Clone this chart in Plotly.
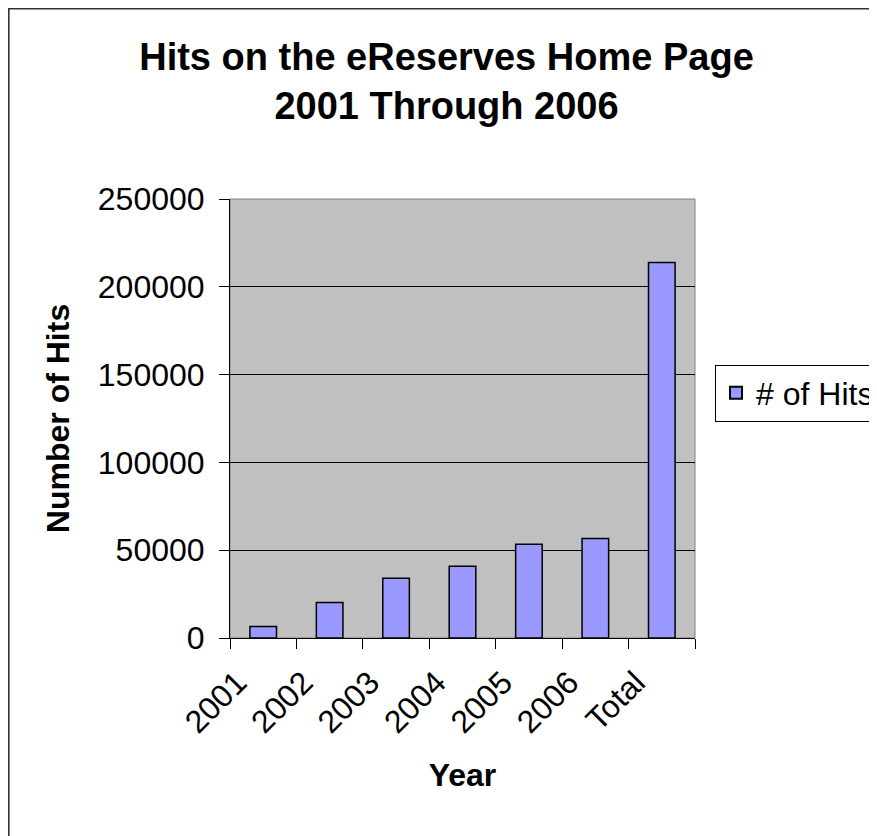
import plotly.graph_objects as go

categories = ["2001", "2002", "2003", "2004", "2005", "2006", "Total"]
hits = [6500, 20200, 34000, 40800, 53400, 56600, 213800]
series_name = "# of Hits"
title_text = "<b>Hits on the eReserves Home Page<br>2001 Through 2006</b>"
x_title = "<b>Year</b>"
y_title = "<b>Number of Hits</b>"

FONT = "Liberation Sans, Arial, sans-serif"
W, H = 877, 836
# page is offset by the 8px body margin; plot area in figure pixels
L, T = 222, 191
pw, ph = 465, 439
R = W - L - pw
B = H - T - ph

fig = go.Figure()
fig.add_trace(go.Bar(
    x=categories, y=hits, name=series_name,
    marker=dict(color="#9999FF", line=dict(color="black", width=1.5)),
    showlegend=True,
))

fig.update_layout(
    width=W, height=H,
    margin=dict(l=L, r=R, t=T, b=B, autoexpand=False),
    paper_bgcolor="white",
    plot_bgcolor="#C0C0C0",
    font=dict(family=FONT, size=32, color="black"),
    bargap=0.6,
    title=dict(text=title_text, x=0.5, xanchor="center", y=1 - 62 / H, yanchor="top",
               font=dict(family=FONT, size=38, color="black")),
    legend=dict(x=(707 - L) / pw, xanchor="left", y=(T + ph - 385) / ph, yanchor="middle",
                bordercolor="black", borderwidth=1, bgcolor="white",
                font=dict(family=FONT, size=32), itemsizing="constant"),
    xaxis=dict(
        type="category", tickson="boundaries", ticks="outside", ticklen=10,
        tickcolor="black", tickwidth=1, showline=True, linecolor="black", linewidth=1,
        showgrid=False, tickangle=-45, tickfont=dict(size=32), ticklabelshift=-26,
        ticklabelstandoff=12,
        title=dict(text=x_title, standoff=24, font=dict(size=32)),
    ),
    yaxis=dict(
        range=[0, 250000], dtick=50000, ticks="outside", ticklen=10, tickformat="d",
        tickcolor="black", tickwidth=1, showline=True, linecolor="black", linewidth=1,
        showgrid=True, gridcolor="black", gridwidth=1, zeroline=False,
        tickfont=dict(size=32), ticklabelstandoff=8,
        title=dict(text=y_title, standoff=18, font=dict(size=32)),
    ),
    shapes=[
        dict(type="rect", xref="paper", yref="paper", x0=0, x1=1, y0=0, y1=1,
             line=dict(color="#808080", width=1), layer="below"),
        dict(type="rect", xref="paper", yref="paper",
             x0=(0.8 - L) / pw, x1=(W + 20 - L) / pw,
             y0=(T + ph - (H + 20)) / ph, y1=(T + ph - 0.6) / ph,
             line=dict(color="#333333", width=1.6), layer="above"),
    ],
)

fig.write_html("out.html")
